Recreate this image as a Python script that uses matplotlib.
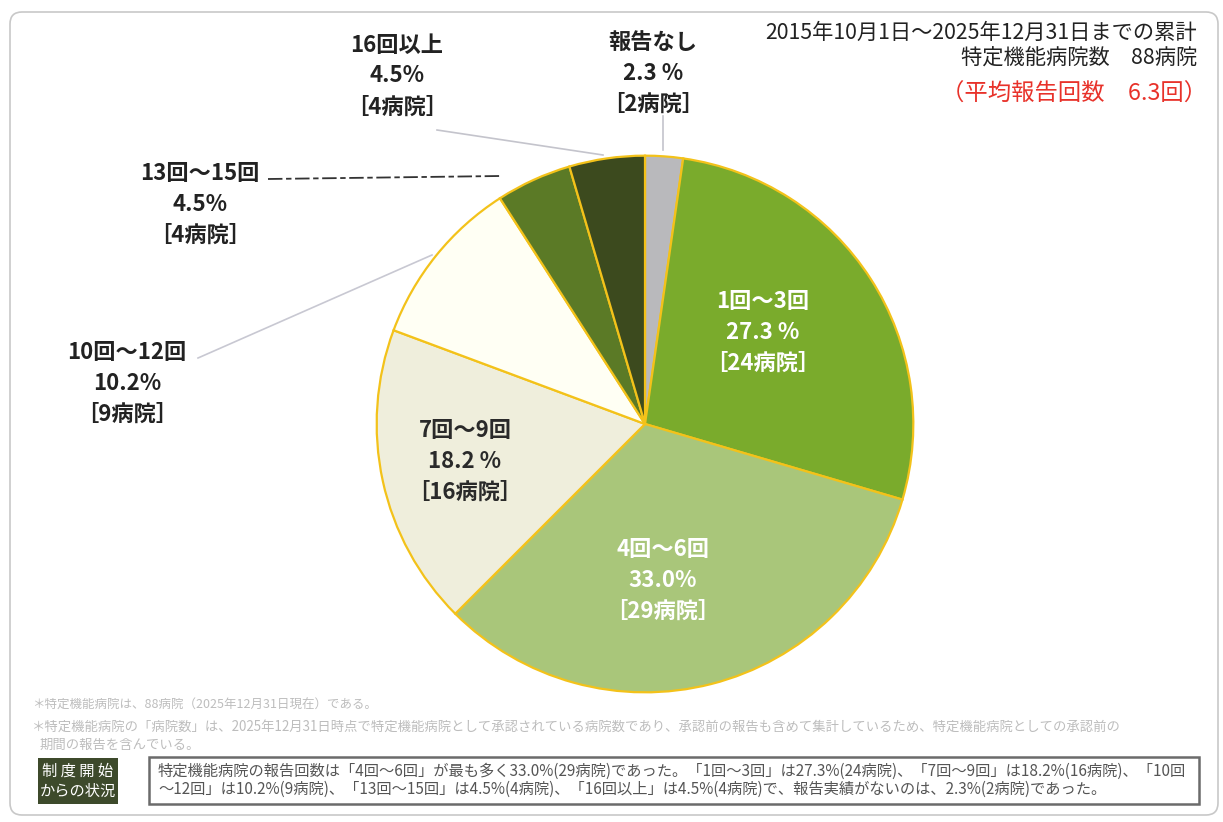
import matplotlib
matplotlib.use('Agg')
import matplotlib.pyplot as plt
from matplotlib.patches import FancyBboxPatch, Rectangle

plt.rcParams['font.family'] = ['Noto Sans CJK JP', 'DejaVu Sans']

# 報告回数の区分（12時の位置から時計回り）
categories = ['報告なし', '1回～3回', '4回～6回', '7回～9回', '10回～12回', '13回～15回', '16回以上']
hospitals = [2, 24, 29, 16, 9, 4, 4]
percents = ['2.3 %', '27.3 %', '33.0%', '18.2 %', '10.2%', '4.5%', '4.5%']
colors = ['#b9b9bc', '#7aab2c', '#a9c67a', '#efeedc', '#fffff4', '#5b7a26', '#3c4a1e']

W, H = 1223, 822
CX, CY, R = 645, 424, 271

fig = plt.figure(figsize=(W / 100, H / 100), dpi=100)
fig.patch.set_facecolor('white')

# 円グラフ
ax = fig.add_axes([(CX - R) / W, (H - CY - R) / H, 2 * R / W, 2 * R / H])
wedges, _ = ax.pie(hospitals, colors=colors, startangle=90, counterclock=False,
                   wedgeprops=dict(edgecolor='#f3c21a', linewidth=1.6))
ax.set_xlim(-1.01, 1.01)
ax.set_ylim(-1.01, 1.01)
ax.set_aspect('equal')
ax.axis('off')

# 文字・枠線用（ピクセル座標、y は下向き）
tx = fig.add_axes([0, 0, 1, 1], zorder=3)
tx.set_xlim(0, W)
tx.set_ylim(H, 0)
tx.axis('off')
tx.patch.set_alpha(0)

tx.add_patch(FancyBboxPatch((10, 12), 1208, 803, boxstyle='round,pad=0,rounding_size=12',
                            facecolor='none', edgecolor='#c8c8c8', linewidth=1.2))


def label(x, y, i, color='#222222'):
    lines = [categories[i], percents[i], '［%d病院］' % hospitals[i]]
    for k, s in enumerate(lines):
        tx.text(x, y + k * 31, s, ha='center', va='center', fontsize=16,
                fontweight='bold', color=color)


# 円の内側
label(763, 301, 1, 'white')
label(663, 549, 2, 'white')
label(465, 430, 3, '#2a2a2a')
# 円の外側
label(653, 42, 0)
label(397, 45, 6)
label(200, 173, 5)
label(127, 352, 4)

# 引き出し線
tx.plot([663, 663], [116, 150], color='#c4c4cc', lw=1.2)
tx.plot([437, 603], [130, 155], color='#c4c4cc', lw=1.2)
tx.plot([268, 500], [179, 176], color='#333333', lw=1.3, ls=(0, (8, 2, 3, 2)))
tx.plot([198, 432], [358, 255], color='#c8c8d2', lw=1.2)

# 右上の注記
tx.text(1197, 33, '2015年10月1日～2025年12月31日までの累計', ha='right', va='center',
        fontsize=15.3, color='#222222')
tx.text(1197, 59, '特定機能病院数　88病院', ha='right', va='center',
        fontsize=15.3, color='#222222')
tx.text(1207, 94, '（平均報告回数　6.3回）', ha='right', va='center',
        fontsize=16.8, color='#e8322a')

# 脚注
note_color = '#bdbdbd'
tx.text(32, 705, '＊特定機能病院は、88病院（2025年12月31日現在）である。', fontsize=9,
        color=note_color, va='center')
tx.text(32, 727, '＊特定機能病院の「病院数」は、2025年12月31日時点で特定機能病院として承認されている病院数であり、'
        '承認前の報告も含めて集計しているため、特定機能病院としての承認前の',
        fontsize=9.6, color=note_color, va='center')
tx.text(40, 745, '期間の報告を含んでいる。', fontsize=9.6, color=note_color, va='center')

# 制度開始からの状況
tx.add_patch(Rectangle((38, 758), 80, 46, facecolor='#3d4a2b', edgecolor='none'))
tx.text(78, 771, '制 度 開 始', ha='center', va='center', fontsize=11, color='white')
tx.text(78, 791, 'からの状況', ha='center', va='center', fontsize=11, color='white')
tx.add_patch(Rectangle((149, 757), 1050, 47, facecolor='white', edgecolor='#6b6b6b', linewidth=1.8))

summary1 = ('特定機能病院の報告回数は「4回～6回」が最も多く33.0%(29病院)であった。「1回～3回」は27.3%(24病院)、'
            '「7回～9回」は18.2%(16病院)、「10回')
summary2 = ('～12回」は10.2%(9病院)、「13回～15回」は4.5%(4病院)、「16回以上」は4.5%(4病院)で、'
            '報告実績がないのは、2.3%(2病院)であった。')
tx.text(158, 771, summary1, fontsize=11, color='#555555', va='center')
tx.text(158, 789, summary2, fontsize=11, color='#555555', va='center')

fig.savefig('out.png', dpi=100, facecolor='white')
